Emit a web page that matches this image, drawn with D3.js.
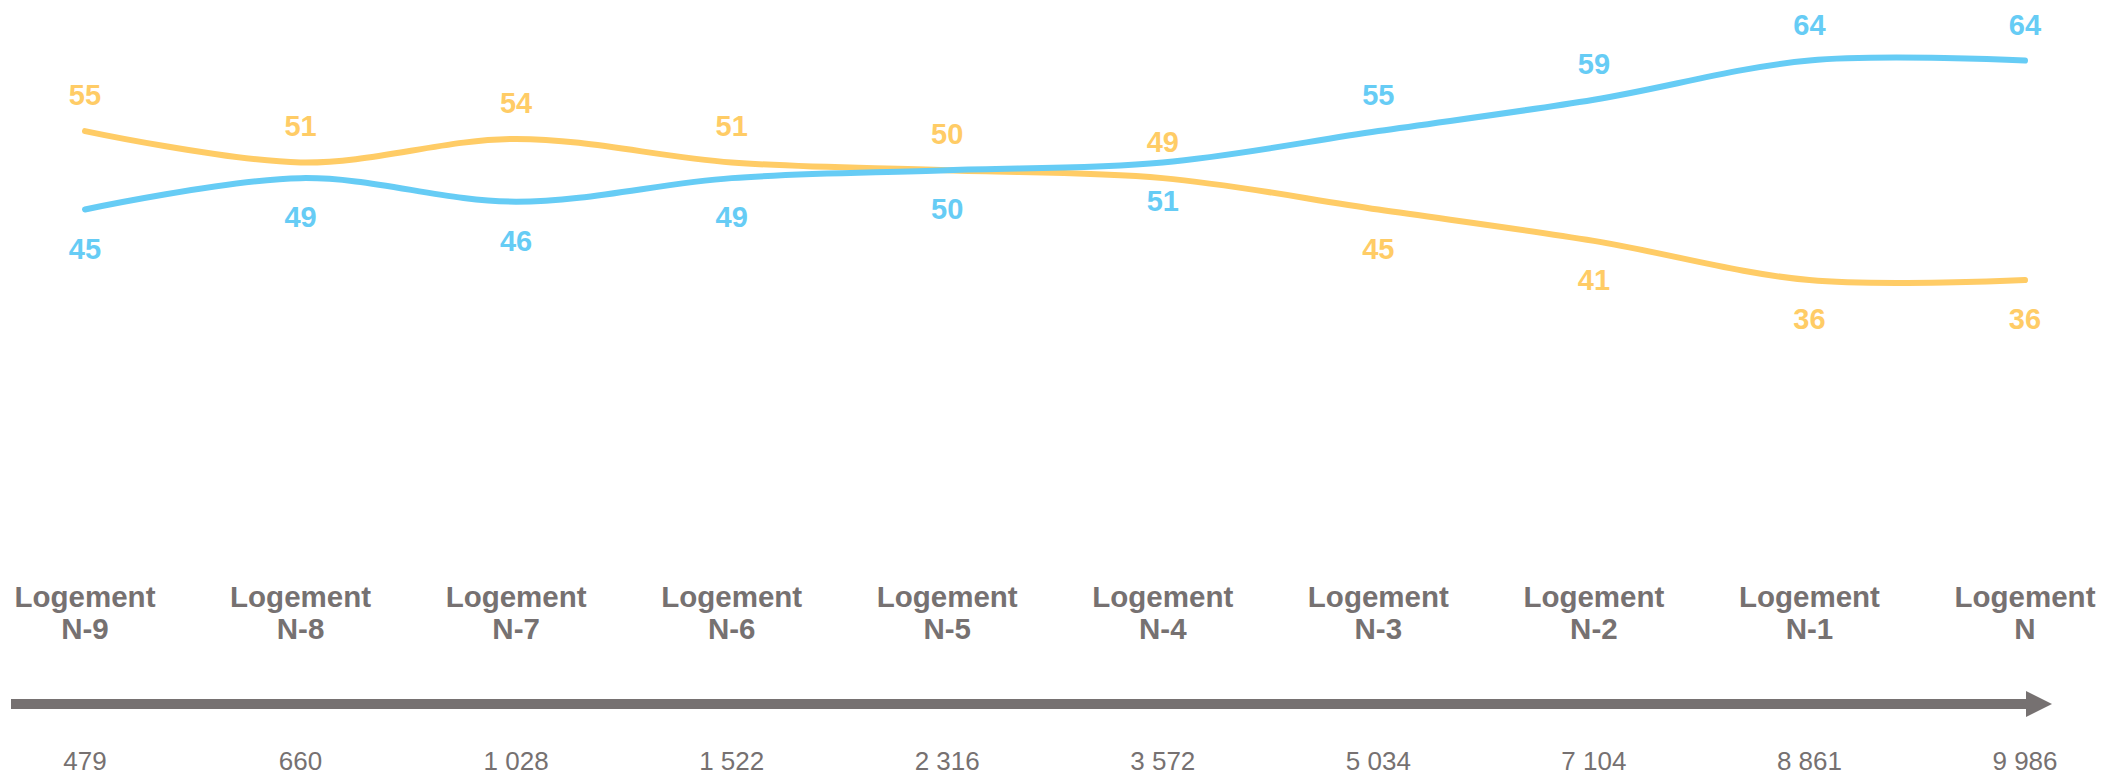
<html>
<head>
<meta charset="utf-8">
<style>
  body { margin: 0; background: #fff; }
  text { font-family: "Liberation Sans", Arial, sans-serif; }
</style>
</head>
<body>
<script src="https://cdn.jsdelivr.net/npm/d3@7"></script>
<script>
// data
var categories = ["N-9", "N-8", "N-7", "N-6", "N-5", "N-4", "N-3", "N-2", "N-1", "N"];
var counts = ["479", "660", "1 028", "1 522", "2 316", "3 572", "5 034", "7 104", "8 861", "9 986"];
var blueValues = [45, 49, 46, 49, 50, 51, 55, 59, 64, 64];
var yellowValues = [55, 51, 54, 51, 50, 49, 45, 41, 36, 36];
// index from which the blue series is labelled above the line
var switchIndex = 6;

var W = 2106, H = 778;
var gray = "#767171", blue = "#66CCF5", yellow = "#FFCC66";

var svg = d3.select("body").append("svg")
  .attr("width", W).attr("height", H);

var x = d3.scalePoint().domain(categories).range([85, 2025]);
var y = d3.scaleLinear().domain([45, 64]).range([209.5, 60.5]);

var line = d3.line()
  .x(function(d, i) { return x(categories[i]); })
  .y(function(d) { return y(d); })
  .curve(d3.curveCatmullRom.alpha(0.5));

var series = [
  { values: yellowValues, color: yellow, above: function(i) { return i < switchIndex; } },
  { values: blueValues, color: blue, above: function(i) { return i >= switchIndex; } }
];

series.forEach(function(s) {
  svg.append("path")
    .attr("d", line(s.values))
    .attr("fill", "none")
    .attr("stroke", s.color)
    .attr("stroke-width", 6)
    .attr("stroke-linecap", "round");

  svg.selectAll(null).data(s.values).enter().append("text")
    .attr("x", function(d, i) { return x(categories[i]); })
    .attr("y", function(d, i) { return y(d) + (s.above(i) ? -26 : 49); })
    .attr("text-anchor", "middle")
    .attr("font-size", 29)
    .attr("font-weight", "bold")
    .attr("fill", s.color)
    .text(function(d) { return d; });
});

// category labels
var cat = svg.selectAll(".cat").data(categories).enter().append("text")
  .attr("class", "cat")
  .attr("text-anchor", "middle")
  .attr("font-size", 29.5)
  .attr("font-weight", "bold")
  .attr("fill", gray);
cat.append("tspan")
  .attr("x", function(d) { return x(d); })
  .attr("y", 607)
  .text("Logement");
cat.append("tspan")
  .attr("x", function(d) { return x(d); })
  .attr("y", 639)
  .text(function(d) { return d; });

// arrow
var defs = svg.append("defs");
defs.append("marker")
  .attr("id", "head")
  .attr("markerUnits", "userSpaceOnUse")
  .attr("markerWidth", 26).attr("markerHeight", 28)
  .attr("refX", 2).attr("refY", 14)
  .attr("orient", "auto")
  .append("path")
  .attr("d", "M0,1 L26,14 L0,27 Z")
  .attr("fill", gray);

svg.append("line")
  .attr("x1", 11).attr("x2", 2028)
  .attr("y1", 704).attr("y2", 704)
  .attr("stroke", gray)
  .attr("stroke-width", 10)
  .attr("marker-end", "url(#head)");

// counts
svg.selectAll(".cnt").data(counts).enter().append("text")
  .attr("class", "cnt")
  .attr("x", function(d, i) { return x(categories[i]); })
  .attr("y", 770)
  .attr("text-anchor", "middle")
  .attr("font-size", 26)
  .attr("fill", gray)
  .text(function(d) { return d; });
</script>
</body>
</html>
